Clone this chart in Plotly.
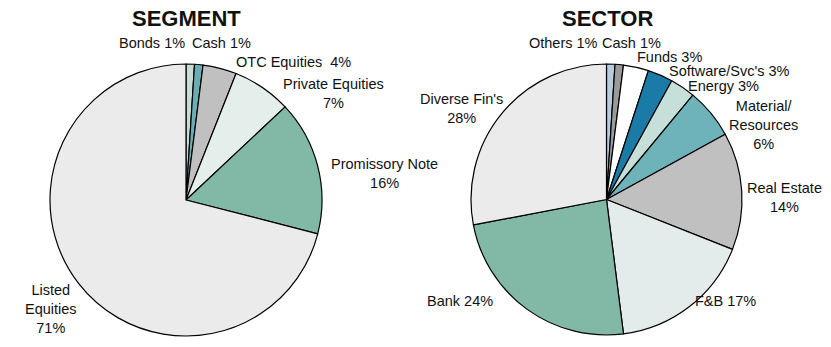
import plotly.graph_objects as go

W, H = 831, 347

seg_labels = ["Bonds", "Cash", "OTC Equities", "Private Equities", "Promissory Note", "Listed Equities"]
seg_values = [1, 1, 4, 7, 16, 71]
seg_colors = ["#c6ddd6", "#6aaeb5", "#c0c0c0", "#e4eeeb", "#82b8a6", "#ebebeb"]

sec_labels = ["Others", "Cash", "Funds", "Software/Svc's", "Energy", "Material/Resources",
              "Real Estate", "F&B", "Bank", "Diverse Fin's"]
sec_values = [1, 1, 3, 3, 3, 6, 14, 17, 24, 28]
sec_colors = ["#b8cce0", "#9a9a9a", "#ffffff", "#1a7ba6", "#c6dfd8", "#6db3b9",
              "#c0c0c0", "#e3ecea", "#82b8a6", "#ebebeb"]

def px_dom(x0, x1, y0, y1):
    return dict(x=[x0 / W, x1 / W], y=[1 - y1 / H, 1 - y0 / H])

fig = go.Figure()
fig.add_trace(go.Pie(
    labels=seg_labels, values=seg_values, sort=False, direction="clockwise", rotation=0,
    marker=dict(colors=seg_colors, line=dict(color="black", width=1.2)),
    textinfo="none", hoverinfo="label+percent", showlegend=False,
    domain=px_dom(50, 322, 64, 336),
))
fig.add_trace(go.Pie(
    labels=sec_labels, values=sec_values, sort=False, direction="clockwise", rotation=0,
    marker=dict(colors=sec_colors, line=dict(color="black", width=1.2)),
    textinfo="none", hoverinfo="label+percent", showlegend=False,
    domain=px_dom(471, 742, 64, 335),
))

def lab(name, v, fmt):
    return fmt.format(n=name, v=v)

seg_fmt = ["{n} {v}%", "{n} {v}%", "{n}  {v}%", "{n}<br>{v}%", "{n}<br>{v}%", "Listed<br>Equities<br>{v}%"]
seg_pos = [(152, 43), (221, 43), (293, 62), (333, 93), (384, 173), (51, 309)]

sec_fmt = ["{n} {v}%", "{n} {v}%", "{n} {v}%", "{n} {v}%", "{n} {v}%",
           "Material/<br>Resources<br>{v}%", "{n}<br>{v}%", "{n} {v}%", "{n} {v}%", "{n}<br>{v}%"]
sec_pos = [(563, 43), (631, 43), (669, 57), (729, 71), (723, 86), (763, 125),
           (784, 197), (725, 301), (460, 301), (461, 108)]

annots = []
for names, vals, fmts, pos in [(seg_labels, seg_values, seg_fmt, seg_pos),
                               (sec_labels, sec_values, sec_fmt, sec_pos)]:
    for n, v, f, (x, y) in zip(names, vals, fmts, pos):
        annots.append(dict(
            text=lab(n, v, f), x=x / W, y=1 - y / H, xref="paper", yref="paper",
            xanchor="center", yanchor="middle", showarrow=False, align="center",
            font=dict(family="Liberation Sans, Arial", size=14.5, color="#111111"),
        ))

for t, x in [("SEGMENT", 186), ("SECTOR", 607)]:
    annots.append(dict(
        text="<b>" + t + "</b>", x=x / W, y=1 - 18 / H, xref="paper", yref="paper",
        xanchor="center", yanchor="middle", showarrow=False,
        font=dict(family="Liberation Sans, Arial", size=22, color="#111111"),
    ))

fig.update_layout(
    width=W, height=H, margin=dict(l=0, r=0, t=0, b=0),
    paper_bgcolor="white", plot_bgcolor="white",
    annotations=annots,
)
fig.write_html("out.html")
